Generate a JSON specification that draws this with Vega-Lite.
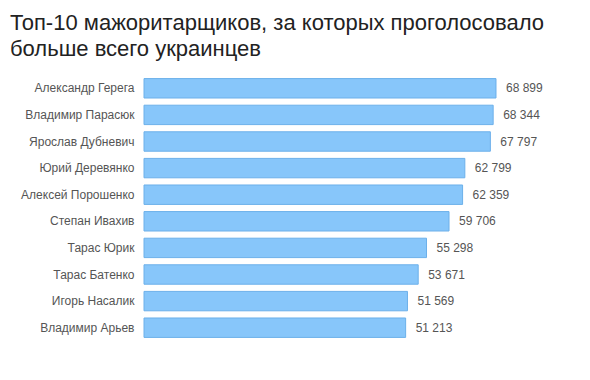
{
  "$schema": "https://vega.github.io/schema/vega-lite/v6.json",
  "autosize": "none",
  "width": 446,
  "height": 266,
  "padding": {"left": 144, "top": 75, "right": 0, "bottom": 39},
  "background": "white",
  "title": {
    "text": ["Топ-10 мажоритарщиков, за которых проголосовало", "больше всего украинцев"],
    "anchor": "start",
    "frame": "group",
    "dx": -134,
    "fontSize": 22,
    "font": "Liberation Sans",
    "fontWeight": "normal",
    "color": "#222222",
    "lineHeight": 26,
    "offset": 14
  },
  "config": {
    "view": {"stroke": null},
    "locale": {"number": {"decimal": ",", "thousands": " ", "grouping": [3], "currency": ["", ""]}}
  },
  "data": {
    "values": [
      {"name": "Александр Герега", "votes": 68899},
      {"name": "Владимир Парасюк", "votes": 68344},
      {"name": "Ярослав Дубневич", "votes": 67797},
      {"name": "Юрий Деревянко", "votes": 62799},
      {"name": "Алексей Порошенко", "votes": 62359},
      {"name": "Степан Ивахив", "votes": 59706},
      {"name": "Тарас Юрик", "votes": 55298},
      {"name": "Тарас Батенко", "votes": 53671},
      {"name": "Игорь Насалик", "votes": 51569},
      {"name": "Владимир Арьев", "votes": 51213}
    ]
  },
  "encoding": {
    "y": {
      "field": "name",
      "type": "nominal",
      "sort": null,
      "scale": {"paddingInner": 0.27, "paddingOuter": 0.135},
      "axis": {
        "title": null,
        "domain": false,
        "ticks": false,
        "labelFontSize": 12,
        "labelFont": "Liberation Sans",
        "labelColor": "#555555",
        "labelPadding": 10
      }
    },
    "x": {
      "field": "votes",
      "type": "quantitative",
      "scale": {"domain": [0, 87300], "nice": false, "zero": true},
      "axis": null
    }
  },
  "layer": [
    {
      "mark": {"type": "bar", "fill": "#87c6fa", "stroke": "#6cb0ea", "strokeWidth": 1}
    },
    {
      "mark": {"type": "text", "align": "left", "baseline": "middle", "dx": 10, "fontSize": 12, "font": "Liberation Sans", "color": "#555555"},
      "encoding": {"text": {"field": "votes", "type": "quantitative", "format": ",d"}}
    }
  ]
}
